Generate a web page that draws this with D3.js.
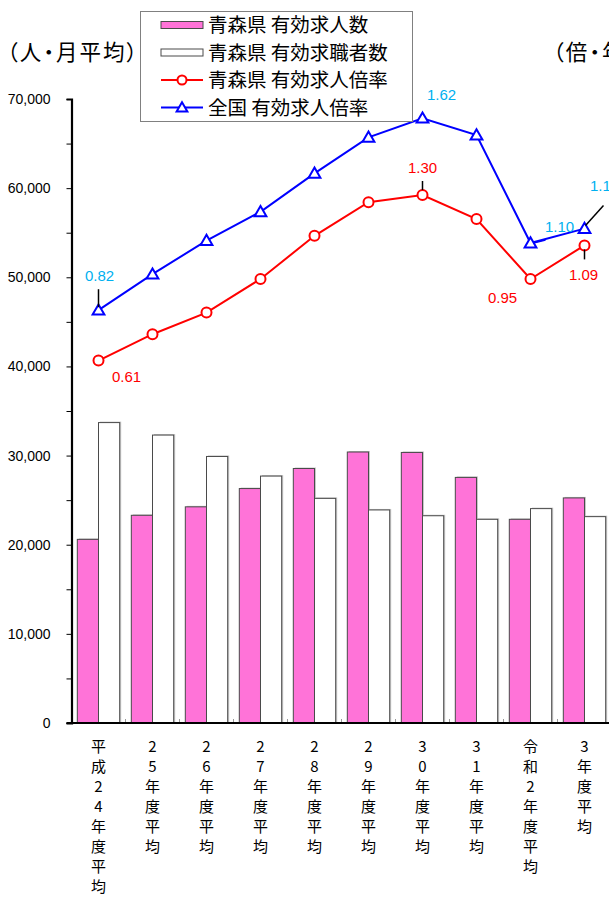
<!DOCTYPE html>
<html>
<head>
<meta charset="utf-8">
<script src="https://cdn.jsdelivr.net/npm/d3@7"></script>
<style>
  html, body { margin: 0; padding: 0; background: #fff; overflow: hidden; }
  svg { display: block; }
</style>
</head>
<body>
<div id="chart"></div>
<script>
// categories (fiscal-year averages)
const categories = [
  "平成24年度平均", "25年度平均", "26年度平均", "27年度平均", "28年度平均",
  "29年度平均", "30年度平均", "31年度平均", "令和2年度平均", "3年度平均"
];
// 青森県 有効求人数 / 有効求職者数 (人・月平均)
const jobOffers = [20600, 23300, 24250, 26300, 28550, 30400, 30350, 27550, 22850, 25250];
const jobSeekers = [33700, 32300, 29900, 27700, 25200, 23900, 23250, 22850, 24050, 23150];
// 有効求人倍率 (倍)
const aomoriRatio = [0.61, 0.72, 0.81, 0.95, 1.13, 1.27, 1.30, 1.20, 0.95, 1.09];
const nationalRatio = [0.82, 0.97, 1.11, 1.23, 1.39, 1.54, 1.62, 1.55, 1.10, 1.16];
const leftTicks = d3.range(0, 70001, 5000);

const W = 609, H = 898;
const PINK = "#FF73D8", RED = "#FF0000", BLUE = "#0000FF", CYAN = "#00B0F0";
const JP = "'Noto Sans CJK JP', 'Noto Sans', sans-serif";
const LAT = "'Liberation Sans', Arial, sans-serif";

const svg = d3.select("#chart").append("svg")
  .attr("width", W).attr("height", H)
  .attr("viewBox", [0, 0, W, H]);

const plot = { left: 71.5, right: 611.5, top: 99, bottom: 723 };

const x = d3.scaleBand()
  .domain(categories)
  .range([plot.left, plot.right])
  .paddingInner(0.215)
  .paddingOuter(0.1075);
const xSub = d3.scaleBand().domain(["offers", "seekers"]).range([0, x.bandwidth()]);
const cx = (c) => x(c) + x.bandwidth() / 2;

const yL = d3.scaleLinear().domain([0, 70000]).range([plot.bottom, plot.top]);
const yR = d3.scaleLinear().domain([-0.9, 1.7]).range([plot.bottom, plot.top]);

// --- bars
const barData = categories.map((c, i) => ({ c, offers: jobOffers[i], seekers: jobSeekers[i] }));
const groups = svg.append("g").selectAll("g").data(barData).join("g")
  .attr("transform", (d) => `translate(${x(d.c)},0)`);

["offers", "seekers"].forEach((key) => {
  // faint shadow
  groups.append("rect")
    .attr("x", xSub(key) + 1.5)
    .attr("y", (d) => yL(d[key]) - 1)
    .attr("width", xSub.bandwidth())
    .attr("height", (d) => yL(0) - yL(d[key]) + 1)
    .attr("fill", "#c8c8c8");
  groups.append("rect")
    .attr("x", xSub(key))
    .attr("y", (d) => yL(d[key]))
    .attr("width", xSub.bandwidth())
    .attr("height", (d) => yL(0) - yL(d[key]))
    .attr("fill", key === "offers" ? PINK : "#fff")
    .attr("stroke", "#4a4a4a")
    .attr("stroke-width", 1);
});

// --- left axis
const axL = svg.append("g")
  .attr("transform", `translate(${plot.left},0)`)
  .call(d3.axisLeft(yL).tickValues(leftTicks).tickSize(5).tickPadding(16)
    .tickFormat((d) => (d % 10000 === 0 ? d3.format(",")(d) : "")));
axL.select(".domain").attr("stroke", "#000").attr("stroke-width", 2.2);
axL.selectAll(".tick line").attr("stroke", "#000");
axL.selectAll("text").attr("font-family", LAT).attr("font-size", 14).attr("fill", "#000");

// --- category axis
svg.append("g").selectAll("line").data(categories.slice(1)).join("line")
  .attr("x1", (c) => x(c) - x.step() * x.paddingInner() / 2)
  .attr("x2", (c) => x(c) - x.step() * x.paddingInner() / 2)
  .attr("y1", yL(0) - 4).attr("y2", yL(0))
  .attr("stroke", "#999");
svg.append("line")
  .attr("x1", plot.left - 5).attr("x2", plot.right)
  .attr("y1", yL(0)).attr("y2", yL(0))
  .attr("stroke", "#000").attr("stroke-width", 2.2);

svg.append("g").selectAll("text").data(categories).join("text")
  .attr("x", (c) => cx(c))
  .attr("y", yL(0) + 29)
  .attr("text-anchor", "middle")
  .attr("font-family", JP).attr("font-size", 15).attr("fill", "#000")
  .each(function (c) {
    d3.select(this).selectAll("tspan").data(Array.from(c)).join("tspan")
      .attr("x", cx(c))
      .attr("dy", (ch, i) => (i === 0 ? 0 : 20))
      .text((ch) => ch);
  });

// --- lines
const lineR = (vals) => d3.line().x((d, i) => cx(categories[i])).y((d) => yR(d))(vals);

svg.append("path").attr("d", lineR(nationalRatio))
  .attr("fill", "none").attr("stroke", BLUE).attr("stroke-width", 2);
svg.append("path").attr("d", lineR(aomoriRatio))
  .attr("fill", "none").attr("stroke", RED).attr("stroke-width", 2);

const tri = d3.symbol().type(d3.symbolTriangle).size(60);
svg.append("g").selectAll("path").data(nationalRatio).join("path")
  .attr("d", tri)
  .attr("transform", (d, i) => `translate(${cx(categories[i])},${yR(d) + 1})`)
  .attr("fill", "#fff").attr("stroke", BLUE).attr("stroke-width", 2);
svg.append("g").selectAll("circle").data(aomoriRatio).join("circle")
  .attr("cx", (d, i) => cx(categories[i]))
  .attr("cy", (d) => yR(d))
  .attr("r", 5)
  .attr("fill", "#fff").attr("stroke", RED).attr("stroke-width", 2);

// --- data labels: index -> label offset [dx, dy] and optional leader [x1, y1, x2, y2, colour]
const natLabels = {
  0: { off: [1, -35], lead: [0, -21, 0, -3, "#000"] },
  6: { off: [19, -24] },
  8: { off: [29, -17], lead: [3, 0, 15, -3, BLUE] },
  9: { off: [20, -43], lead: [1, -3, 19, -23, "#000"] }
};
const aomLabels = {
  0: { off: [28, 16] },
  6: { off: [0, -28], lead: [0, -14, 0, -5, "#000"] },
  8: { off: [-28, 18] },
  9: { off: [-1, 29], lead: [0, 4, 0, 14, "#000"] }
};

function drawLabels(vals, spec, color) {
  Object.keys(spec).forEach((k) => {
    const i = +k;
    const px = cx(categories[i]), py = yR(vals[i]);
    const { off, lead } = spec[k];
    if (lead) {
      svg.append("line")
        .attr("x1", px + lead[0]).attr("y1", py + lead[1])
        .attr("x2", px + lead[2]).attr("y2", py + lead[3])
        .attr("stroke", lead[4]).attr("stroke-width", 1.5);
    }
    svg.append("text")
      .attr("x", px + off[0]).attr("y", py + off[1] + 5.5)
      .attr("text-anchor", "middle")
      .attr("font-family", LAT).attr("font-size", 15)
      .attr("fill", color)
      .text(d3.format(".2f")(vals[i]));
  });
}
drawLabels(nationalRatio, natLabels, CYAN);
drawLabels(aomoriRatio, aomLabels, RED);

// --- unit labels (proportional punctuation like the original)
[["（人・月平均）", 7], ["（倍・年度平均）", 553]].forEach(([t, tx]) => {
  svg.append("text").attr("x", tx).attr("y", 60)
    .attr("font-family", JP).attr("font-size", 21.5).attr("fill", "#000")
    .attr("letter-spacing", 2)
    .style("font-feature-settings", "'palt'")
    .text(t);
});

// --- legend
const legend = svg.append("g").attr("transform", "translate(140,11)");
legend.append("rect").attr("x", 0.5).attr("y", 0.5).attr("width", 272).attr("height", 110)
  .attr("fill", "#fff").attr("stroke", "#808080");
const items = [
  { label: "青森県 有効求人数", kind: "bar", fill: PINK },
  { label: "青森県 有効求職者数", kind: "bar", fill: "#fff" },
  { label: "青森県 有効求人倍率", kind: "circle", color: RED },
  { label: "全国 有効求人倍率", kind: "tri", color: BLUE }
];
const row = legend.selectAll("g").data(items).join("g")
  .attr("transform", (d, i) => `translate(0,${14 + i * 27.5})`);
row.filter((d) => d.kind === "bar").append("rect")
  .attr("x", 21).attr("y", -3.5).attr("width", 42).attr("height", 7)
  .attr("fill", (d) => d.fill).attr("stroke", "#4a4a4a");
row.filter((d) => d.kind !== "bar").append("line")
  .attr("x1", 21).attr("x2", 63).attr("y1", 0).attr("y2", 0)
  .attr("stroke", (d) => d.color).attr("stroke-width", 2);
row.filter((d) => d.kind === "circle").append("circle")
  .attr("cx", 42).attr("cy", 0).attr("r", 4.5)
  .attr("fill", "#fff").attr("stroke", RED).attr("stroke-width", 2);
row.filter((d) => d.kind === "tri").append("path")
  .attr("d", d3.symbol().type(d3.symbolTriangle).size(50))
  .attr("transform", "translate(42,1)")
  .attr("fill", "#fff").attr("stroke", BLUE).attr("stroke-width", 2);
row.append("text").attr("x", 68).attr("y", 7)
  .attr("font-family", JP).attr("font-size", 19.5).attr("fill", "#000")
  .text((d) => d.label);
</script>
</body>
</html>
